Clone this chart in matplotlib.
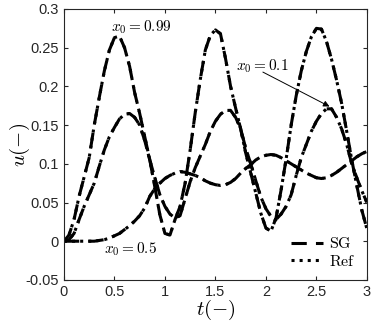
import numpy as np
import matplotlib
matplotlib.use('Agg')
import matplotlib.pyplot as plt

plt.rcParams['mathtext.fontset'] = 'cm'
plt.rcParams['font.family'] = ['Liberation Sans', 'DejaVu Sans']

# time grid (step 0.05)
t = np.round(np.arange(0, 3.0001, 0.05), 2)

# x0 = 0.99
u_099 = [0.000, 0.008, 0.028, 0.058, 0.083, 0.108, 0.150, 0.186, 0.220, 0.247,
         0.263, 0.265, 0.250, 0.226, 0.192, 0.165, 0.135, 0.105, 0.070, 0.034,
         0.010, 0.008, 0.028, 0.045, 0.075, 0.118, 0.166, 0.209, 0.247, 0.266,
         0.273, 0.268, 0.236, 0.200, 0.172, 0.145, 0.114, 0.088, 0.062, 0.036,
         0.017, 0.013, 0.030, 0.066, 0.106, 0.150, 0.188, 0.220, 0.245, 0.264,
         0.275, 0.274, 0.258, 0.235, 0.208, 0.178, 0.142, 0.105, 0.072, 0.040,
         0.016]

# x0 = 0.1
u_01 = [0.000, 0.002, 0.010, 0.028, 0.045, 0.060, 0.075, 0.097, 0.118, 0.135,
        0.147, 0.158, 0.164, 0.165, 0.160, 0.150, 0.130, 0.105, 0.082, 0.060,
        0.045, 0.035, 0.030, 0.033, 0.055, 0.077, 0.095, 0.110, 0.125, 0.142,
        0.155, 0.164, 0.169, 0.169, 0.160, 0.145, 0.120, 0.100, 0.078, 0.057,
        0.042, 0.032, 0.028, 0.035, 0.045, 0.060, 0.085, 0.108, 0.125, 0.142,
        0.155, 0.165, 0.171, 0.171, 0.160, 0.145, 0.125, 0.100, 0.082, 0.065,
        0.050]

# x0 = 0.5
u_05 = [0.000, 0.000, 0.000, 0.000, 0.000, 0.000, 0.000, 0.001, 0.002, 0.004,
        0.007, 0.010, 0.015, 0.020, 0.026, 0.033, 0.043, 0.058, 0.068, 0.075,
        0.081, 0.085, 0.088, 0.090, 0.089, 0.087, 0.085, 0.082, 0.078, 0.075,
        0.073, 0.072, 0.073, 0.076, 0.081, 0.088, 0.094, 0.099, 0.105, 0.109,
        0.111, 0.112, 0.111, 0.108, 0.104, 0.100, 0.096, 0.092, 0.088, 0.085,
        0.082, 0.081, 0.082, 0.085, 0.089, 0.094, 0.099, 0.104, 0.109, 0.113,
        0.116]

xticks = [0, 0.5, 1, 1.5, 2, 2.5, 3]
xticklabels = ['0', '0.5', '1', '1.5', '2', '2.5', '3']
yticks = [-0.05, 0, 0.05, 0.1, 0.15, 0.2, 0.25, 0.3]
yticklabels = ['-0.05', '0', '0.05', '0.1', '0.15', '0.2', '0.25', '0.3']

fig = plt.figure(figsize=(3.74, 3.27), dpi=100)
ax = fig.add_axes([0.171, 0.144, 0.81, 0.8285])

dash = (0, (5, 3))
for u in (u_099, u_01, u_05):
    ax.plot(t, u, color='k', lw=2.2, linestyle=dash)
    ax.plot(t, u, color='k', lw=2.2, linestyle=':')

# legend proxies
ax.plot([], [], color='k', lw=2.2, linestyle=dash, label=r'$\mathrm{SG}$')
ax.plot([], [], color='k', lw=2.2, linestyle=':', label=r'$\mathrm{Ref}$')
handles, labels = ax.get_legend_handles_labels()
ax.legend(handles, labels, loc='lower right', frameon=False, fontsize=11.5,
          handlelength=2.0, handletextpad=0.4, labelspacing=0.15,
          borderaxespad=0.3)

ax.text(0.765, 0.276, r'$x_0 = 0.99$', fontsize=11, ha='center', va='center')
ax.text(0.655, -0.0105, r'$x_0 = 0.5$', fontsize=11, ha='center', va='center')
ax.text(1.96, 0.2255, r'$x_0 = 0.1$', fontsize=11, ha='center', va='center')
ax.annotate('', xy=(2.63, 0.174), xytext=(1.97, 0.2185),
            arrowprops=dict(arrowstyle='-|>', color='k', lw=0.7,
                            mutation_scale=9, shrinkA=0, shrinkB=0))

ax.set_xlim(0, 3)
ax.set_ylim(-0.05, 0.3)
ax.set_xticks(xticks)
ax.set_xticklabels(xticklabels)
ax.set_yticks(yticks)
ax.set_yticklabels(yticklabels)
ax.tick_params(direction='in', top=True, right=True, labelsize=10.5, length=3,
               width=0.8, colors='#262626', labelcolor='#262626')
for s in ax.spines.values():
    s.set_linewidth(0.8)
    s.set_color('#262626')

ax.set_xlabel(r'$t(-)$', fontsize=15, va='center')
ax.set_ylabel(r'$u(-)$', fontsize=15, va='center')
ax.xaxis.set_label_coords(0.5, -0.11)
ax.yaxis.set_label_coords(-0.145, 0.5)

fig.savefig('out.png', dpi=100)
